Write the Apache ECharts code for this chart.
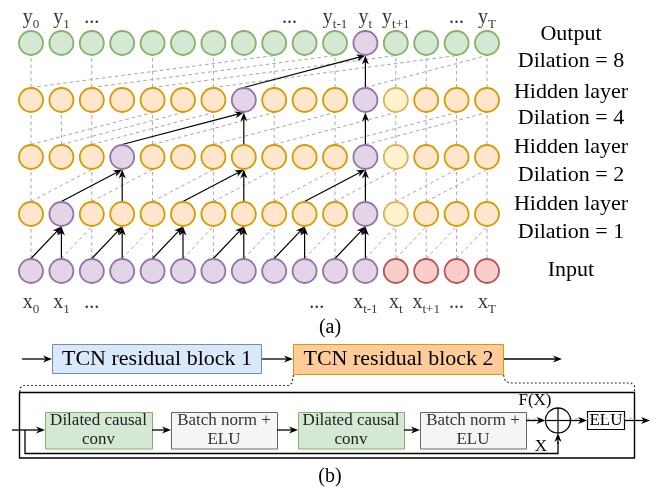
<!DOCTYPE html>
<html>
<head>
<meta charset="utf-8">
<script src="https://cdn.jsdelivr.net/npm/echarts@6/dist/echarts.min.js"></script>
<style>html,body{margin:0;padding:0;background:#fff}#c{width:663px;height:491px}</style>
</head>
<body>
<div id="c"></div>
<script>
// ---------- data ----------
const columnIndex = [0,1,2,3,4,5,6,7,8,9,10,11,12,13,14,15];
const layerIndex = [0,1,2,3,4];
const inputStates   = ['P','P','P','P','P','P','P','P','P','P','P','P','R','R','R','R'];
const hidden1States = ['O','P','O','O','O','O','O','O','O','O','O','P','Y','O','O','O'];
const hidden2States = ['O','O','O','P','O','O','O','O','O','O','O','P','Y','O','O','O'];
const hidden4States = ['O','O','O','O','O','O','O','P','O','O','O','P','Y','O','O','O'];
const outputStates  = ['G','G','G','G','G','G','G','G','G','G','G','P','G','G','G','G'];

const solidEdges0 = [[0,1],[1,1],[2,3],[3,3],[4,5],[5,5],[6,7],[7,7],[8,9],[9,9],[10,11],[11,11]];
const solidEdges1 = [[1,3],[3,3],[5,7],[7,7],[9,11],[11,11]];
const solidEdges2 = [[3,7],[7,7],[11,11]];
const solidEdges3 = [[7,11],[11,11]];

const dashedVert0 = [0,2,4,6,8,10,12,13,14,15];
const dashedVert1 = [0,2,4,6,8,10,12,13,14,15];
const dashedVert2 = [0,1,2,4,6,8,10,12,13,14,15];
const dashedVert3 = [0,2,4,6,8,10,12,13,14,15];

const dashedDiag0 = [[1,2],[3,4],[5,6],[7,8],[9,10],[11,12],[12,13],[13,14],[14,15]];
const dashedDiag1 = [[0,2],[2,4],[4,6],[6,8],[8,10],[10,12],[12,14],[13,15]];
const dashedDiag2 = [[0,4],[1,5],[2,6],[4,8],[6,10],[8,12],[10,14],[11,15]];
const dashedDiag3 = [[0,8],[2,10],[4,12],[6,14],[11,15]];

const topLabelText = ['y|0','y|1','...','...','y|t-1','y|t','y|t+1','...','y|T'];
const topLabelCol  = [0,1,2,8.5,10,11,12,14,15];
const bottomLabelText = ['x|0','x|1','...','...','x|t-1','x|t','x|t+1','...','x|T'];
const bottomLabelCol  = [0,1,2,9.4,11,12,13,14,15];

const rightLabels = ['Output','Dilation = 8','Hidden layer','Dilation = 4','Hidden layer','Dilation = 2','Hidden layer','Dilation = 1','Input'];
const blockLabels = ['TCN residual block 1','TCN residual block 2'];
const innerBlockLabels = [['Dilated causal','conv'],['Batch norm +','ELU'],['Dilated causal','conv'],['Batch norm +','ELU']];
const innerBlockKinds = ['conv','norm','conv','norm'];

// ---------- styles ----------
const FONT = '"Liberation Serif", "Times New Roman", serif';
const palette = {
  G:{fill:'#d5e8d4', stroke:'#82b366'},
  O:{fill:'#ffe6cc', stroke:'#d79b00'},
  P:{fill:'#e1d5e7', stroke:'#9673a6'},
  Y:{fill:'#fff2cc', stroke:'#d6b656'},
  R:{fill:'#f8cecc', stroke:'#b85450'}
};
const R = 12.5;

const allStates = [inputStates, hidden1States, hidden2States, hidden4States, outputStates];
const nodeData = [];
layerIndex.forEach(l => columnIndex.forEach(c => {
  const st = palette[allStates[l][c]];
  nodeData.push({value:[c,l], itemStyle:{color:st.fill, borderColor:st.stroke}});
}));

const edgeData = [];
const solids = [solidEdges0, solidEdges1, solidEdges2, solidEdges3];
const dverts = [dashedVert0, dashedVert1, dashedVert2, dashedVert3];
const ddiags = [dashedDiag0, dashedDiag1, dashedDiag2, dashedDiag3];
for (let t = 0; t < 4; t++) {
  dverts[t].forEach(c => edgeData.push([c, t, c, t+1, 0]));
  ddiags[t].forEach(p => edgeData.push([p[0], t, p[1], t+1, 0]));
}
for (let t = 0; t < 4; t++) {
  solids[t].forEach(p => edgeData.push([p[0], t, p[1], t+1, 1]));
}

function arrowHead(x1,y1,x2,y2,L,W){
  const dx=x2-x1, dy=y2-y1, len=Math.hypot(dx,dy);
  const ux=dx/len, uy=dy/len, nx=-uy, ny=ux;
  const bx=x2-ux*L, by=y2-uy*L;
  const notch=[x2-ux*L*0.7, y2-uy*L*0.7];
  return {poly:[[x2,y2],[bx+nx*W/2,by+ny*W/2],notch,[bx-nx*W/2,by-ny*W/2]], notch};
}

function subLabel(s){
  if (s.indexOf('|') < 0) return '{b|' + s + '}';
  const parts = s.split('|');
  return '{b|' + parts[0] + '}{s|' + parts[1] + '}';
}
const richSub = {
  b:{fontFamily:FONT, fontSize:20, lineHeight:22, color:'#000'},
  s:{fontFamily:FONT, fontSize:13, lineHeight:13, padding:[13,0,0,0], color:'#000'}
};

// ---------- graphic (part b + annotations) ----------
const g = [];
function txt(x,y,text,size,color){
  g.push({type:'text', x:x, y:y, z:10, style:{text:text, fontFamily:FONT, fontSize:size, fill:color||'#000', align:'center', verticalAlign:'middle'}});
}
function arrow(x1,y1,x2,y2){
  const a = arrowHead(x1,y1,x2,y2,9,7);
  g.push({type:'line', z:5, shape:{x1:x1,y1:y1,x2:a.notch[0],y2:a.notch[1]}, style:{stroke:'#000', lineWidth:1.3}});
  g.push({type:'polygon', z:5, shape:{points:a.poly}, style:{fill:'#000'}});
}
// right labels
const rightY = [34, 61, 92, 118, 147, 175, 204, 232, 270];
rightLabels.forEach((t,i) => txt(571, rightY[i], t, 22));
txt(330, 328, '(a)', 20);
txt(330, 477, '(b)', 20);

// top blocks
arrow(22,359,52,359);
g.push({type:'rect', shape:{x:52.5,y:344.5,width:209,height:29}, style:{fill:'#dae8fc', stroke:'#6c8ebf', lineWidth:1}});
txt(157, 359.5, blockLabels[0], 22);
arrow(262,359,293,359);
g.push({type:'rect', shape:{x:293.5,y:344.5,width:210,height:30}, style:{fill:'#ffcc99', stroke:'#d79b00', lineWidth:1}});
txt(398.5, 359.5, blockLabels[1], 22);
arrow(504,359,562,359);
// dotted zoom lines
g.push({type:'polyline', shape:{points:[[20,392],[20,388],[23,385.5],[289,385.5],[292,383],[293.5,375]]}, style:{stroke:'#333', lineWidth:1.2, lineDash:[2,2], fill:null}});
g.push({type:'polyline', shape:{points:[[503.5,375],[505,380],[509,383],[631,383],[634.5,386],[634.5,392]]}, style:{stroke:'#333', lineWidth:1.2, lineDash:[2,2], fill:null}});
// outer box
g.push({type:'rect', shape:{x:19.5,y:392.5,width:615,height:65.5}, style:{fill:null, stroke:'#000', lineWidth:1.4}});
// inner chain
const innerX = [45, 171, 298, 420];
const innerW = [107, 106, 106, 106];
arrow(12,430,45,430);
innerBlockLabels.forEach((lines,i) => {
  const conv = innerBlockKinds[i] === 'conv';
  g.push({type:'rect', shape:{x:innerX[i]+0.5,y:412.5,width:innerW[i],height:36.5}, style:{fill: conv?'#d5e8d4':'#f5f5f5', stroke: conv?'#82b366':'#666666', lineWidth:1}});
  const cx = innerX[i] + innerW[i]/2;
  txt(cx, 421, lines[0], 17, conv?'#222':'#333');
  txt(cx, 440, lines[1], 17, conv?'#222':'#333');
});
arrow(152,430,171,430);
arrow(277,430,298,430);
arrow(404,430,420,430);
// light dashed guide
g.push({type:'line', z:1, shape:{x1:527,y1:419,x2:636,y2:418}, style:{stroke:'#bbb', lineWidth:1, lineDash:[3,3]}});
arrow(526,420.5,545.5,420.5);
g.push({type:'circle', z:6, shape:{cx:558,cy:420.5,r:12.5}, style:{fill:'#fff', stroke:'#000', lineWidth:1.3}});
g.push({type:'line', z:7, shape:{x1:545.5,y1:420.5,x2:570.5,y2:420.5}, style:{stroke:'#000', lineWidth:1.2}});
g.push({type:'line', z:7, shape:{x1:558,y1:408,x2:558,y2:433}, style:{stroke:'#000', lineWidth:1.2}});
arrow(570.5,420.5,587,420.5);
g.push({type:'rect', shape:{x:587.5,y:411.5,width:37,height:18}, style:{fill:'#fff', stroke:'#000', lineWidth:1.2}});
txt(606, 421, 'ELU', 17);
arrow(625,420.5,650,420.5);
// skip connection
g.push({type:'polyline', z:5, shape:{points:[[25,430],[25,453.5],[558,453.5],[558,442]]}, style:{stroke:'#000', lineWidth:1.3, fill:null}});
arrow(558,444,558,433);
txt(535, 401, 'F(X)', 17);
txt(541, 447, 'X', 17);

// ---------- chart ----------
const chart = echarts.init(document.getElementById('c'), null, {renderer:'canvas'});
chart.setOption({
  animation:false,
  backgroundColor:'#fff',
  grid:[{left:31, top:43, width:456, height:228, containLabel:false, show:false}],
  xAxis:[{type:'value', min:0, max:15, show:false}],
  yAxis:[{type:'value', min:0, max:4, show:false}],
  series:[
    {
      type:'custom', z:1, clip:false,
      data: edgeData,
      encode:{x:[0,2], y:[1,3]},
      renderItem:function(params, api){
        const p1 = api.coord([api.value(0), api.value(1)]);
        const p2 = api.coord([api.value(2), api.value(3)]);
        const x1=p1[0], y1=p1[1]-R, x2=p2[0], y2=p2[1]+R;
        if (api.value(4) === 0) {
          return {type:'line', shape:{x1:x1,y1:y1,x2:x2,y2:y2}, style:{stroke:'#a6a6a6', lineWidth:1, lineDash:[3.5,3], fill:null}};
        }
        const a = arrowHead(x1,y1,x2,y2,9,7);
        return {type:'group', children:[
          {type:'line', shape:{x1:x1,y1:y1,x2:a.notch[0],y2:a.notch[1]}, style:{stroke:'#000', lineWidth:1.2}},
          {type:'polygon', shape:{points:a.poly}, style:{fill:'#000'}}
        ]};
      }
    },
    {
      type:'scatter', z:3, clip:false,
      symbol:'circle', symbolSize:24,
      itemStyle:{borderWidth:1.8, opacity:1},
      data: nodeData
    },
    {
      type:'scatter', z:4, clip:false, symbolSize:0, silent:true,
      data: topLabelCol.map((c,i) => ({value:[c,4], name:topLabelText[i]})),
      label:{show:true, position:'inside', offset:[0,-25], formatter:p => subLabel(p.name), rich:richSub}
    },
    {
      type:'scatter', z:4, clip:false, symbolSize:0, silent:true,
      data: bottomLabelCol.map((c,i) => ({value:[c,0], name:bottomLabelText[i]})),
      label:{show:true, position:'inside', offset:[0,32], formatter:p => subLabel(p.name), rich:richSub}
    }
  ],
  graphic: g
});
</script>
</body>
</html>
